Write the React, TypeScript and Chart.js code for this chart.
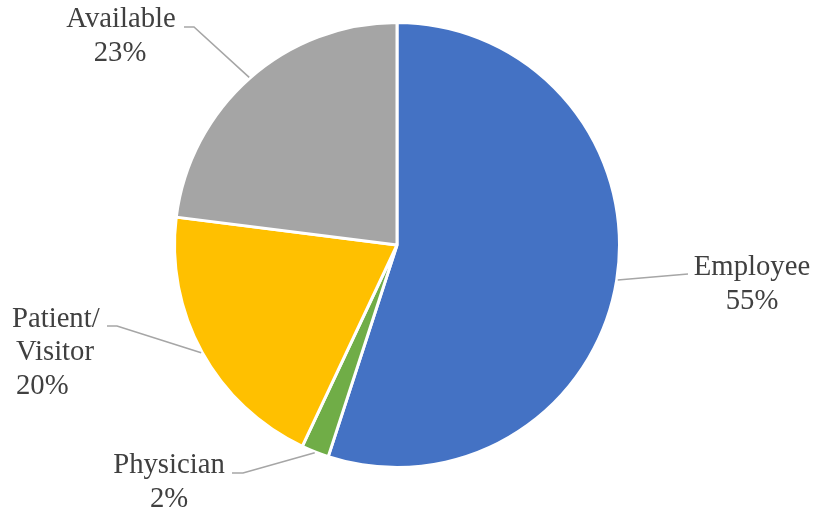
import React, { useEffect, useRef } from "react";
import { Chart, registerables } from "chart.js";

Chart.register(...registerables);

const categories = ["Employee", "Physician", "Patient/Visitor", "Available"];
const values = [55, 2, 20, 23];
const colors = ["#4472C4", "#70AD47", "#FFC000", "#A5A5A5"];

// label text lines per category
const labelLines = [["Employee", "55%"], ["Physician", "2%"], ["Patient/", "Visitor", "20%"], ["Available", "23%"]];
// label placement relative to pie center (pixels): text anchor, alignment, leader elbow & end
const labelAnchors = [
  { tx: 355, ty: 30, align: "center", lineX: [0, 0], elbow: [291, 29], end: [291, 29] },
  { tx: -228, ty: 228, align: "center", lineX: [0, 0], elbow: [-154, 228], end: [-165, 228] },
  { tx: -385, ty: 81.5, align: "left", lineX: [0, 4, 4], elbow: [-280, 81], end: [-290, 81] },
  { tx: -276, ty: -218, align: "center", lineX: [0, -1], elbow: [-203, -218], end: [-213, -218] },
];

const labelPlugin = {
  id: "outLabels",
  afterDraw(chart: any) {
    const ctx = chart.ctx;
    const meta = chart.getDatasetMeta(0);
    ctx.save();
    meta.data.forEach((arc: any, i: number) => {
      const { x, y, startAngle, endAngle, outerRadius } = arc.getProps(["x", "y", "startAngle", "endAngle", "outerRadius"], true);
      const mid = (startAngle + endAngle) / 2;
      const r = outerRadius + 1;
      const sx = x + Math.cos(mid) * r;
      const sy = y + Math.sin(mid) * r;
      const a = labelAnchors[i];
      ctx.strokeStyle = "#A6A6A6";
      ctx.lineWidth = 1.6;
      ctx.beginPath();
      ctx.moveTo(sx, sy);
      ctx.lineTo(x + a.elbow[0], y + a.elbow[1]);
      ctx.lineTo(x + a.end[0], y + a.end[1]);
      ctx.stroke();
      ctx.fillStyle = "#404040";
      ctx.font = "28.7px 'Liberation Serif', 'Times New Roman', serif";
      ctx.textAlign = a.align;
      ctx.textBaseline = "alphabetic";
      labelLines[i].forEach((line, j) => {
        ctx.fillText(line, x + a.tx + (a.lineX[j] || 0), y + a.ty + j * 33.5);
      });
    });
    ctx.restore();
  },
};

export default function App() {
  const canvasRef = useRef<HTMLCanvasElement>(null);
  useEffect(() => {
    document.body.style.margin = "0";
    const chart = new Chart(canvasRef.current!, {
      type: "pie",
      data: {
        labels: categories,
        datasets: [
          {
            data: values,
            backgroundColor: colors,
            borderColor: "#FFFFFF",
            borderWidth: 3,
          },
        ],
      },
      options: {
        responsive: false,
        animation: false,
        layout: { padding: { left: 173, right: 193, top: 21, bottom: 43 } },
        plugins: {
          legend: { display: false },
          tooltip: { enabled: false },
        },
      },
      plugins: [labelPlugin],
    });
    return () => chart.destroy();
  }, []);
  return (
    <div style={{ position: "absolute", left: 0, top: 0, width: 814, height: 512, background: "#fff" }}>
      <canvas ref={canvasRef} width={814} height={512} />
    </div>
  );
}
